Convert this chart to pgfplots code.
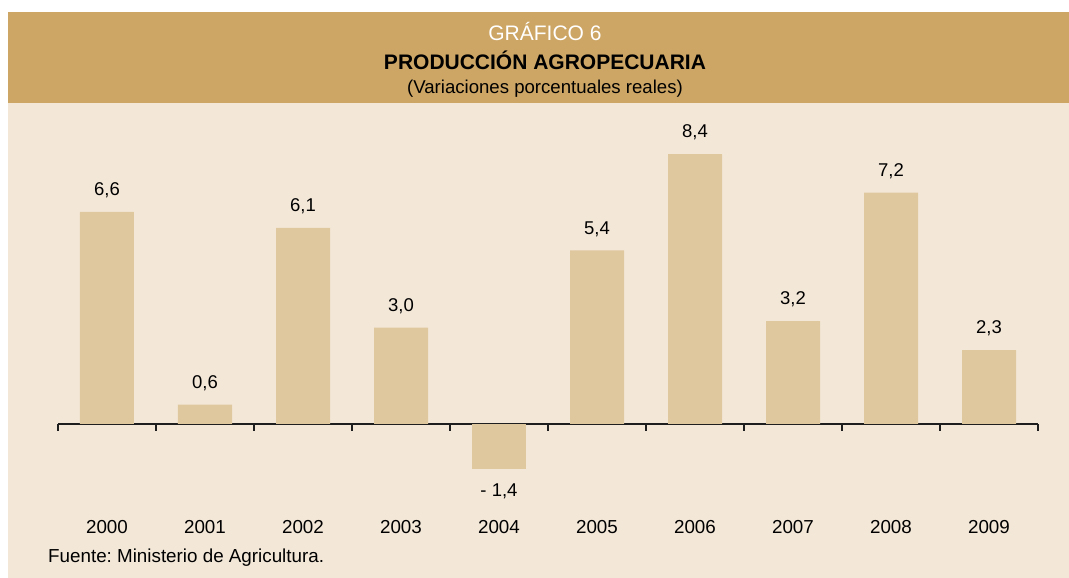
\documentclass[border=0pt]{standalone}
\usepackage{pgfplots}
\usepackage{pgfplotstable}
\pgfplotsset{compat=1.18}
\usepackage{fontspec}
\setmainfont{Liberation Sans}
\frenchspacing
\definecolor{hdr}{HTML}{CDA665}
\definecolor{bgc}{HTML}{F3E7D8}
\definecolor{barc}{HTML}{E0C89E}
\definecolor{axc}{HTML}{1E1E1E}
\pgfplotstableread{
x y lab
0 6.6 6,6
1 0.6 0,6
2 6.1 6,1
3 3.0 3,0
5 5.4 5,4
6 8.4 8,4
7 3.2 3,2
8 7.2 7,2
9 2.3 2,3
}\pos
\pgfplotstableread{
x y
4 -1.4
}\negt
\begin{document}
\begin{tikzpicture}[x=1pt,y=1pt]
% origin of the picture = data point (2000, 0), at pixel (107, 424)
\begin{scope}[shift={(-107pt,-154pt)}]
\fill[white] (0pt,0pt) rectangle (1069pt,578pt);
\fill[bgc] (8pt,0pt) rectangle (1069pt,566pt);
\fill[hdr] (8pt,475pt) rectangle (1069pt,566pt);
\node[white,anchor=base,inner sep=0pt,font=\fontsize{21}{23}\selectfont] at (545pt,537.3pt) {GRÁFICO 6};
\node[anchor=base,inner sep=0pt,font=\fontsize{21}{23}\selectfont\bfseries] at (545pt,508.7pt) {PRODUCCIÓN AGROPECUARIA};
\node[anchor=base,inner sep=0pt,font=\fontsize{18.6}{20}\selectfont] at (545pt,484pt) {(Variaciones porcentuales reales)};
\node[anchor=base west,inner sep=0pt,font=\fontsize{18.8}{20}\selectfont] at (48pt,15.3pt) {Fuente: Ministerio de Agricultura.};
\end{scope}
\begin{axis}[
  anchor=origin,
  x=98pt, y=32.14pt,
  xmin=-0.5, xmax=9.5, ymin=-3, ymax=9,
  axis x line=middle, axis y line=none,
  x axis line style={-, draw=axc, line width=1.2pt},
  xtick={-0.5,0.5,...,9.5}, xticklabels={},
  major tick length=7pt, tick align=outside,
  every tick/.style={draw=axc, line width=1.2pt},
  ybar, bar width=54pt, bar shift=0pt,
  clip=false,
  nodes near coords style={font=\fontsize{18.5}{20}\selectfont, anchor=base, inner sep=0pt},
]
\addplot[fill=barc, draw=none, point meta=explicit symbolic,
  nodes near coords, every node near coord/.append style={yshift=16.3pt, anchor=base}]
  table[x=x, y=y, meta=lab] {\pos};
\addplot[fill=barc, draw=none, nodes near coords={- 1,4},
  every node near coord/.append style={yshift=-27.3pt, anchor=base}]
  table[x=x, y=y] {\negt};
\pgfplotsinvokeforeach{0,...,9}{
  \node[anchor=base, inner sep=0pt, font=\fontsize{18.8}{20}\selectfont] at (axis cs:#1,-3.42) {\pgfmathparse{int(2000+#1)}\pgfmathresult};
}
\end{axis}
\end{tikzpicture}
\end{document}
